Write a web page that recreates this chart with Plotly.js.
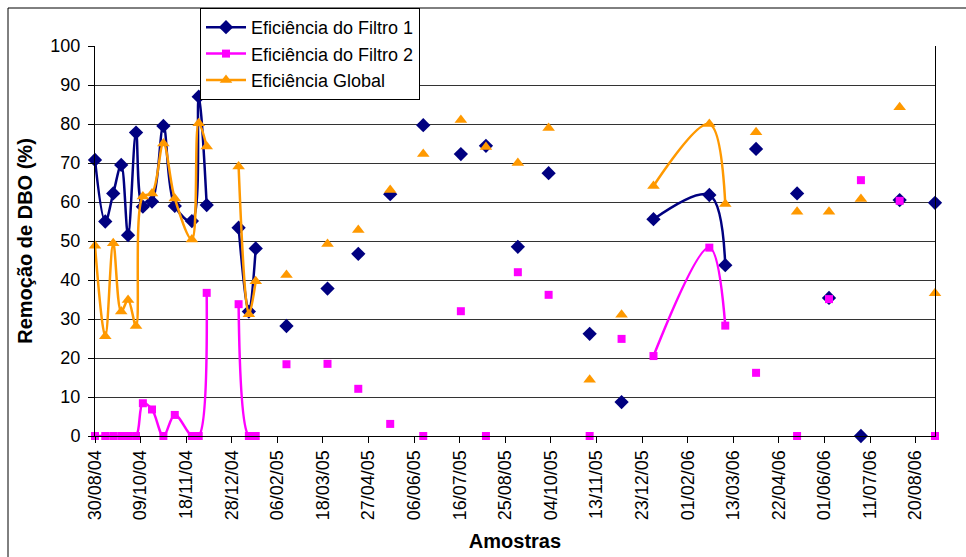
<!DOCTYPE html>
<html>
<head>
<meta charset="utf-8">
<script src="https://cdn.plot.ly/plotly-3.0.1.min.js"></script>
<style>
  html, body { margin: 0; padding: 0; background: #ffffff; }
  #chart { width: 966px; height: 557px; }
</style>
</head>
<body>
<div id="chart"></div>
<script>
// Sampling dates (one row per sample campaign)
const sampleDates = [
  '2004-08-30', '2004-09-08', '2004-09-15', '2004-09-22', '2004-09-28',
  '2004-10-05', '2004-10-11', '2004-10-19', '2004-10-29', '2004-11-08',
  '2004-11-23', '2004-11-29', '2004-12-06',
  '2005-01-03', '2005-01-12', '2005-01-18',
  '2005-02-14', '2005-03-22', '2005-04-18', '2005-05-16', '2005-06-14',
  '2005-07-17', '2005-08-08', '2005-09-05', '2005-10-02', '2005-11-07',
  '2005-12-05',
  '2006-01-02', '2006-02-20', '2006-03-06',
  '2006-04-02', '2006-05-08', '2006-06-05', '2006-07-03', '2006-08-06',
  '2006-09-06'
];

// Consecutive samples sharing a run number are joined by a line;
// a new run number starts a fresh line segment (blank rows in the sheet)
const runId = [
  1, 1, 1, 1, 1, 1, 1, 1, 1, 1, 1, 1, 1,
  2, 2, 2,
  3, 4, 5, 6, 7, 8, 9, 10, 11, 12, 13,
  14, 14, 14,
  15, 16, 17, 18, 19, 20
];

// BOD removal efficiency (%)
const filtro1 = [
  70.8, 55.0, 62.2, 69.5, 51.5, 77.8, 58.8, 60.1, 79.5, 59.0, 55.1, 87.0, 59.2,
  53.4, 31.9, 48.1,
  28.2, 37.8, 46.7, 62.0, 79.7, 72.3, 74.4, 48.5, 67.4, 26.2, 8.7,
  55.6, 61.8, 43.8,
  73.6, 62.2, 35.4, 0.0, 60.5, 59.8
];

const filtro2 = [
  0.0, 0.0, 0.0, 0.0, 0.0, 0.0, 8.4, 6.8, 0.0, 5.4, 0.0, 0.0, 36.7,
  33.8, 0.0, 0.0,
  18.4, 18.5, 12.1, 3.1, 0.0, 32.0, 0.0, 42.0, 36.2, 0.0, 24.9,
  20.5, 48.3, 28.3,
  16.2, 0.0, 35.1, 65.6, 60.3, 0.0
];

const eficGlobal = [
  48.8, 25.6, 49.4, 31.9, 34.9, 28.2, 61.4, 62.2, 75.0, 60.9, 50.4, 80.2, 74.2,
  69.1, 31.2, 39.7,
  41.3, 49.2, 52.8, 63.1, 72.3, 81.0, 74.1, 70.0, 79.0, 14.4, 31.1,
  64.1, 80.0, 59.5,
  77.9, 57.5, 57.5, 60.8, 84.3, 36.6
];

const seriesNames = ['Eficiência do Filtro 1', 'Eficiência do Filtro 2', 'Eficiência Global'];

// Insert a null between runs so the smoothed line breaks there
function withBreaks(values) {
  const xs = [], ys = [];
  for (let i = 0; i < sampleDates.length; i++) {
    if (i > 0 && runId[i] !== runId[i - 1]) {
      xs.push(sampleDates[i]);
      ys.push(null);
    }
    xs.push(sampleDates[i]);
    ys.push(values[i]);
  }
  return { x: xs, y: ys };
}

function makeTrace(values, name, color, symbol, size, group) {
  const d = withBreaks(values);
  return {
    type: 'scatter',
    mode: 'lines+markers',
    x: d.x,
    y: d.y,
    name: name,
    legendgroup: group,
    connectgaps: false,
    cliponaxis: false,
    line: { color: color, width: 2.5, shape: 'spline', smoothing: 1 },
    marker: { color: color, symbol: symbol, size: size, line: { width: 0 } },
    hoverinfo: 'x+y+name'
  };
}

const traces = [
  makeTrace(filtro1, seriesNames[0], '#000080', 'diamond', 11, 'g1'),
  makeTrace(filtro2, seriesNames[1], '#FF00FF', 'square', 8, 'g2'),
  makeTrace(eficGlobal, seriesNames[2], '#FF9900', 'triangle-up', 11, 'g3')
];

const L = 95, R = 935, T = 46, B = 436, W = 966, H = 557;
const px2paperX = p => (p - L) / (R - L);
const px2paperY = p => (B - p) / (B - T);

const layout = {
  width: W,
  height: H,
  margin: { l: L, r: W - R, t: T, b: H - B, pad: 0, autoexpand: false },
  paper_bgcolor: '#ffffff',
  plot_bgcolor: '#ffffff',
  font: { family: 'Liberation Sans, Arial, sans-serif', color: '#000000', size: 17 },
  showlegend: true,
  legend: {
    xref: 'paper', yref: 'paper',
    x: px2paperX(200), y: px2paperY(8),
    xanchor: 'left', yanchor: 'top',
    bgcolor: '#ffffff',
    bordercolor: '#000000',
    borderwidth: 1,
    font: { size: 18, family: 'Liberation Sans, Arial, sans-serif' },
    tracegroupgap: 0,
    itemwidth: 40
  },
  xaxis: {
    type: 'date',
    range: ['2004-08-30', '2006-09-06'],
    tick0: '2004-08-30',
    dtick: 40 * 86400000,
    tickformat: '%d/%m/%y',
    tickangle: -90,
    ticks: 'outside',
    ticklen: 6,
    tickcolor: '#000000',
    showline: true,
    linecolor: '#000000',
    linewidth: 1,
    showgrid: false,
    zeroline: false,
    tickfont: { size: 18 },
    title: { text: 'Amostras', font: { size: 20, weight: 'bold' }, standoff: 14 },
    automargin: false,
    fixedrange: true
  },
  yaxis: {
    range: [0, 100],
    dtick: 10,
    ticks: 'outside',
    ticklen: 6,
    tickcolor: '#000000',
    ticklabelstandoff: 4,
    showline: true,
    mirror: true,
    linecolor: '#000000',
    linewidth: 1,
    showgrid: true,
    gridcolor: '#333333',
    gridwidth: 1,
    zeroline: false,
    tickfont: { size: 18 },
    title: { text: 'Remoção de DBO (%)', font: { size: 20, weight: 'bold' }, standoff: 12 },
    automargin: false,
    fixedrange: true
  },
  shapes: [
    {
      type: 'rect', xref: 'paper', yref: 'paper',
      x0: px2paperX(8), x1: px2paperX(975),
      y0: px2paperY(565), y1: px2paperY(8),
      line: { color: '#000000', width: 1 },
      fillcolor: 'rgba(0,0,0,0)',
      layer: 'below'
    }
  ]
};

Plotly.newPlot('chart', traces, layout, { staticPlot: true, displayModeBar: false });
</script>
</body>
</html>
